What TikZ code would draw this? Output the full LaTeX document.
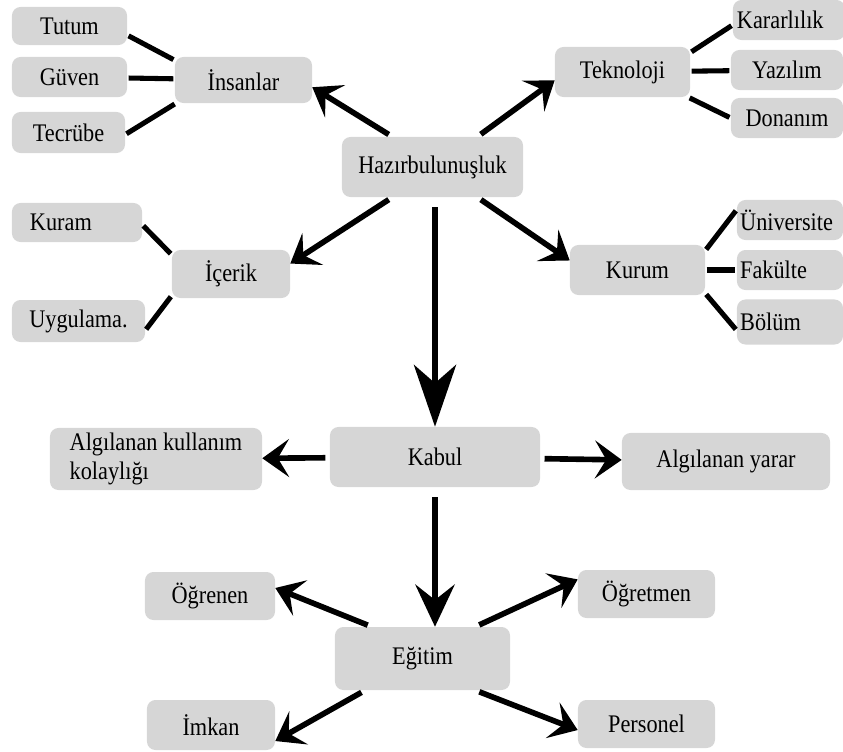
\documentclass[tikz,border=0pt]{standalone}
\usepackage{fontspec}
\setmainfont{Liberation Serif}[FakeStretch=0.88]
\usetikzlibrary{arrows.meta}
\definecolor{boxgray}{RGB}{214,214,214}
\begin{document}
\begin{tikzpicture}[x=0.025cm, y=-0.025cm]
    \tikzstyle{concept} = [rectangle, fill=boxgray, rounded corners=6pt, inner xsep=3pt, font=\fontsize{18}{20}\selectfont]
    \tikzstyle{link} = [draw, line width=4pt, shorten <=3pt, -{Stealth[length=19pt, width=27pt, inset=8pt]}]
    \tikzstyle{mainlink} = [draw, line width=4pt, shorten <=7pt, -{Stealth[length=44pt, width=30pt, inset=13pt]}]
    \tikzstyle{branch} = [draw, line width=3.6pt, shorten <=1pt, shorten >=1pt]

    \useasboundingbox (0,0) rectangle (843,751);

    \node [concept, minimum width=4.525cm, minimum height=1.5cm] (hazir) at (432.5,167) {Hazırbulunuşluk};

    \node [concept, minimum width=3.425cm, minimum height=1.15cm] (insanlar) at (243.5,80) {İnsanlar};
    \node [concept, minimum width=2.875cm, minimum height=0.95cm] (tutum) at (69.5,26) {Tutum};
    \node [concept, minimum width=2.875cm, minimum height=1cm] (guven) at (69.5,77) {Güven};
    \node [concept, minimum width=2.825cm, minimum height=1.025cm] (tecrube) at (68.5,132.5) {Tecrübe};

    \node [concept, minimum width=3.375cm, minimum height=1.25cm] (teknoloji) at (622.5,72) {Teknoloji};
    \node [concept, minimum height=1cm, inner xsep=0.1cm, text width=2.6cm, align=left] (kararlilik) at (789,20) {Kararlılık};
    \node [concept, minimum width=2.8cm, minimum height=1cm] (yazilim) at (787,70) {Yazılım};
    \node [concept, minimum width=2.8cm, minimum height=1cm] (donanim) at (787,118) {Donanım};

    \node [concept, minimum width=2.95cm, minimum height=1.2cm] (icerik) at (231,274) {İçerik};
    \node [concept, minimum height=0.975cm, inner xsep=0.45cm, text width=2.35cm, align=left] (kuram) at (77,222.5) {Kuram};
    \node [concept, minimum width=3.325cm, minimum height=1.05cm] (uygulama) at (78.5,321) {Uygulama.};

    \node [concept, minimum width=3.375cm, minimum height=1.25cm] (kurum) at (637.5,270) {Kurum};
    \node [concept, minimum height=1cm, inner xsep=0.08cm, text width=2.49cm, align=left] (universite) at (790,220) {Üniversite};
    \node [concept, minimum height=1cm, inner xsep=0.08cm, text width=2.49cm, align=left] (fakulte) at (790,270) {Fakülte};
    \node [concept, minimum height=1.125cm, inner xsep=0.08cm, text width=2.49cm, align=left] (bolum) at (790,322) {Bölüm};

    \node [concept, minimum width=5.25cm, minimum height=1.5cm] (kabul) at (435,457) {Kabul};
    \node [concept, minimum width=5.3cm, minimum height=1.55cm, align=left] (kolaylik) at (156,459) {Algılanan kullanım\\kolaylığı};
    \node [concept, minimum width=5.2cm, minimum height=1.425cm] (yarar) at (726,461.5) {Algılanan yarar};

    \node [concept, minimum width=4.375cm, minimum height=1.575cm] (egitim) at (422.5,658.5) {Eğitim};
    \node [concept, minimum width=3.25cm, minimum height=1.2cm] (ogrenen) at (210,596) {Öğrenen};
    \node [concept, minimum width=3.425cm, minimum height=1.2cm] (ogretmen) at (646.5,594) {Öğretmen};
    \node [concept, minimum width=3.2cm, minimum height=1.25cm] (imkan) at (211,725) {İmkan};
    \node [concept, minimum width=3.425cm, minimum height=1.2cm] (personel) at (646.5,724) {Personel};

    \draw [link] (hazir.143) -- (insanlar.-6);
    \draw [link] (hazir.34) -- (teknoloji.-173);
    \draw [link] (hazir.-143) -- (icerik.10);
    \draw [link] (hazir.-34) -- (kurum.172);
    \draw [mainlink] (hazir.south -| kabul.north) -- (kabul.north);

    \draw [branch] (insanlar.164) -- (tutum.-9);
    \draw [branch] (insanlar) -- (guven);
    \draw [branch] (insanlar.-161) -- (tecrube.-2);
    \draw [branch] (teknoloji.16) -- (kararlilik.-175);
    \draw [branch] (teknoloji) -- (yazilim);
    \draw [branch] (teknoloji.-21) -- (donanim.180);
    \draw [branch] (icerik.162) -- (kuram.-2);
    \draw [branch] (icerik.-160) -- (uygulama.-8);
    \draw [branch] (kurum.16.5) -- (universite.169);
    \draw [branch] (kurum) -- (fakulte);
    \draw [branch] (kurum.-19) -- (bolum.-171);

    \draw [link] (kabul) -- (kolaylik);
    \draw [link] (kabul) -- (yarar);
    \draw [mainlink, -{Stealth[length=30pt, width=28pt, inset=11pt]}] (kabul) -- (kabul |- egitim.north);

    \draw [link] (egitim.148) -- (ogrenen.7);
    \draw [link] (egitim.31) -- (ogretmen.168);
    \draw [link] (egitim.-151) -- (imkan.-14);
    \draw [link] (egitim.-31) -- (personel.-175);
\end{tikzpicture}
\end{document}
